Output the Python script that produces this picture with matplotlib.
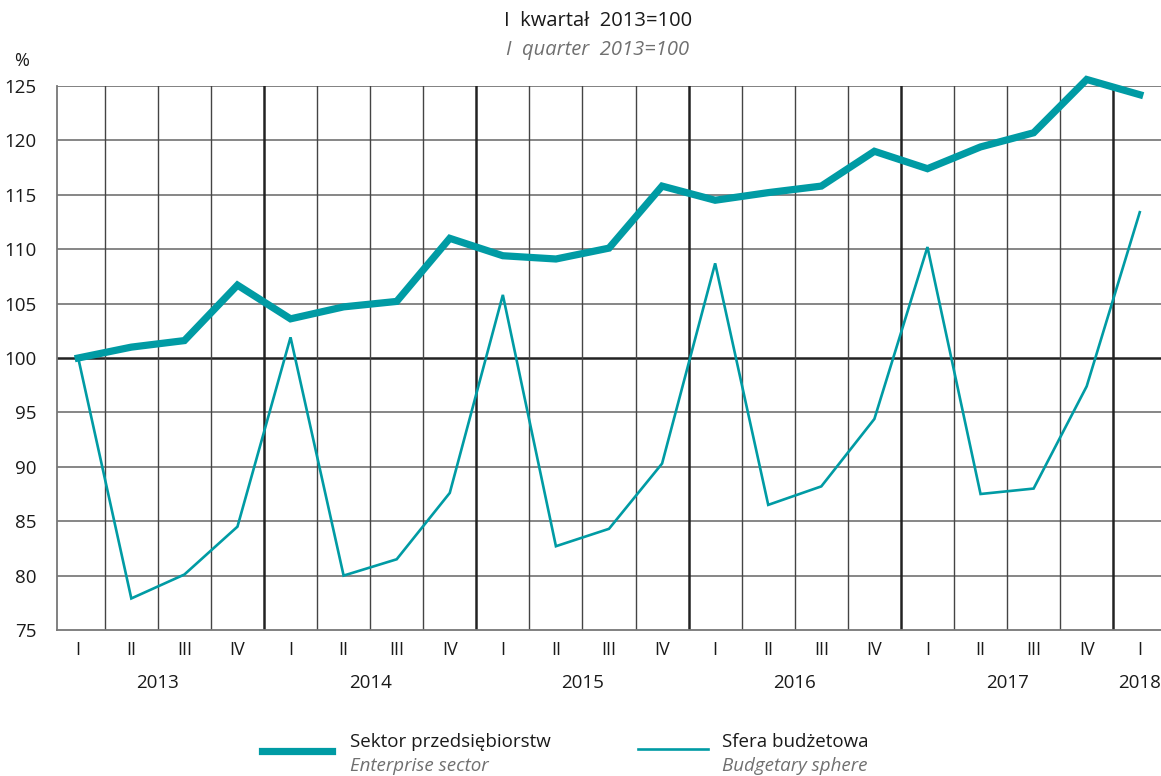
import matplotlib
matplotlib.use('Agg')
import matplotlib.pyplot as plt
from matplotlib.lines import Line2D
from matplotlib.transforms import blended_transform_factory

plt.rcParams['font.family'] = ['Open Sans', 'DejaVu Sans']

# Data: I quarter 2013 = 100
quarters = ['I', 'II', 'III', 'IV'] * 5 + ['I']
years = ['2013', '2014', '2015', '2016', '2017', '2018']
enterprise = [100.0, 101.0, 101.6, 106.7, 103.6, 104.7, 105.2, 111.0, 109.4, 109.1, 110.1,
              115.8, 114.5, 115.2, 115.8, 119.0, 117.4, 119.4, 120.7, 125.6, 124.2]
budget = [100.0, 77.9, 80.1, 84.5, 101.9, 80.0, 81.5, 87.6, 105.8, 82.7, 84.3,
          90.3, 108.7, 86.5, 88.2, 94.4, 110.2, 87.5, 88.0, 97.4, 113.4]

teal = '#009ba4'
x = list(range(len(quarters)))

fig = plt.figure(figsize=(11.61, 7.76), dpi=100)
ax = fig.add_axes([57 / 1161, 1 - 630 / 776, 1104 / 1161, 544 / 776])

# grid
for v in range(80, 125, 5):
    if v == 100:
        ax.axhline(v, color='#222222', lw=1.8, zorder=1)
    else:
        ax.axhline(v, color='#666666', lw=1.1, zorder=1)
ax.axhline(125, color='#777777', lw=1.3, zorder=1)
for k in range(20):
    if k % 4 == 3:
        ax.axvline(k + 0.5, color='#222222', lw=1.8, zorder=1)
    else:
        ax.axvline(k + 0.5, color='#444444', lw=1.0, zorder=1)

ax.plot(x, enterprise, color=teal, lw=5.2, solid_joinstyle='miter', zorder=3, clip_on=False)
ax.plot(x, budget, color=teal, lw=1.9, solid_joinstyle='miter', zorder=3, clip_on=False)

ax.set_xlim(-0.4, 20.4)
ax.set_ylim(75, 125)
ax.set_yticks(range(75, 130, 5))
ax.set_xticks(x, quarters)
ax.tick_params(axis='y', length=0, pad=15, labelsize=13.5, labelcolor='#1a1a1a')
ax.tick_params(axis='x', length=0, pad=8, labelsize=13, labelcolor='#1a1a1a')
for s in ['top', 'right']:
    ax.spines[s].set_visible(False)
for s in ['left', 'bottom']:
    ax.spines[s].set_color('#777777')
    ax.spines[s].set_linewidth(1.3)

# year labels
tr = blended_transform_factory(ax.transData, ax.transAxes)
for i, yr in enumerate(years):
    xpos = i * 4 + 1.5 if i < 5 else 20
    ax.text(xpos, -0.098, yr, transform=tr, ha='center', va='center', fontsize=13.5, color='#1a1a1a')

fig.text(22 / 1161, 1 - 61 / 776, '%', ha='center', va='center', fontsize=13, color='#1a1a1a')
fig.text(598 / 1161, 1 - 21 / 776, 'I  kwartał  2013=100', ha='center', va='center', fontsize=14.5, color='#1a1a1a')
fig.text(598 / 1161, 1 - 50 / 776, 'I  quarter  2013=100', ha='center', va='center', fontsize=14.5,
         style='italic', color='#707070')

# legend
fig.add_artist(Line2D([262 / 1161, 332 / 1161], [1 - 751 / 776] * 2, color=teal, lw=5.2))
fig.add_artist(Line2D([638 / 1161, 708 / 1161], [1 - 749 / 776] * 2, color=teal, lw=1.9))
fig.text(350 / 1161, 1 - 742 / 776, 'Sektor przedsiębiorstw', ha='left', va='center', fontsize=13.5, color='#1a1a1a')
fig.text(350 / 1161, 1 - 766 / 776, 'Enterprise sector', ha='left', va='center', fontsize=13.5,
         style='italic', color='#707070')
fig.text(722 / 1161, 1 - 742 / 776, 'Sfera budżetowa', ha='left', va='center', fontsize=13.5, color='#1a1a1a')
fig.text(722 / 1161, 1 - 766 / 776, 'Budgetary sphere', ha='left', va='center', fontsize=13.5,
         style='italic', color='#707070')

fig.savefig('out.png', dpi=100)
